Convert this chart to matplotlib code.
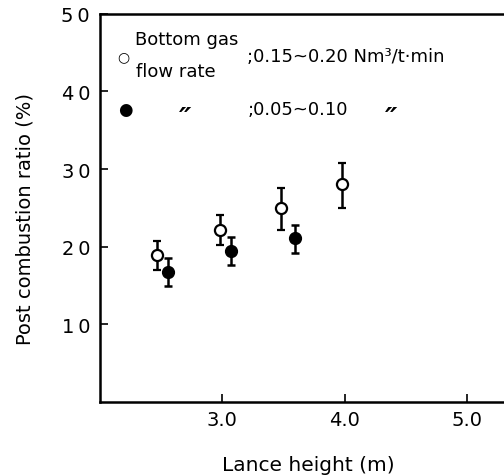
import numpy as np
import matplotlib.pyplot as plt

# open circles: bottom gas 0.15~0.20 Nm3/t.min
x_open = [2.47, 2.98, 3.48, 3.98]
y_open = [18.9, 22.2, 25.0, 28.1]
lo_open = [17.0, 20.2, 22.1, 25.0]
hi_open = [20.7, 24.1, 27.6, 30.8]

# filled circles: bottom gas 0.05~0.10
x_fill = [2.56, 3.07, 3.59]
y_fill = [16.8, 19.4, 21.1]
lo_fill = [15.0, 17.7, 19.2]
hi_fill = [18.6, 21.2, 22.8]

xticks = [3.0, 4.0, 5.0]
yticks = [10, 20, 30, 40, 50]

fig = plt.figure(figsize=(5.04, 4.77), dpi=100)
ax = fig.add_axes([0.198, 0.155, 0.802, 0.814])


def errs(y, lo, hi):
    y = np.array(y)
    return [y - np.array(lo), np.array(hi) - y]


ax.errorbar(x_open, y_open, yerr=errs(y_open, lo_open, hi_open), fmt="o",
            mfc="white", mec="black", mew=1.6, ms=8, ecolor="black",
            elinewidth=1.8, capsize=3.2, capthick=1.8, zorder=3)
ax.errorbar(x_fill, y_fill, yerr=errs(y_fill, lo_fill, hi_fill), fmt="o",
            mfc="black", mec="black", ms=8.5, ecolor="black",
            elinewidth=1.8, capsize=3.2, capthick=1.8, zorder=3)

ax.set_xlim(2.0, 5.3)
ax.set_ylim(0, 50)
ax.set_xticks(xticks)
ax.set_xticklabels([f"{t:.1f}" for t in xticks])
ax.set_yticks(yticks)
# spaced digits like the original print
ax.set_yticklabels(["\u2009".join(str(t)) for t in yticks])
ax.tick_params(direction="in", length=6, width=1.2, labelsize=14)
ax.tick_params(axis="x", pad=6)
ax.tick_params(axis="y", pad=7)
for s in ["left", "bottom", "top"]:
    ax.spines[s].set_linewidth(1.8)
ax.spines["right"].set_visible(False)

ax.set_xlabel("Lance height (m)", fontsize=14.5, va="center")
ax.xaxis.set_label_coords(0.516, -0.16)
ax.set_ylabel("Post combustion ratio (%)", fontsize=14, va="center")
ax.yaxis.set_label_coords(-0.186, 0.475)

# hand-drawn style legend
kw = dict(transform=ax.transAxes, va="center")
ax.text(0.057, 0.892, "\u25cb", fontsize=10, ha="center", **kw)
ax.text(0.087, 0.936, "Bottom gas", fontsize=13, **kw)
ax.text(0.09, 0.853, "flow rate", fontsize=13, **kw)
ax.text(0.365, 0.892, ";0.15~0.20 Nm\u00b3/t\u00b7min", fontsize=13, **kw)
ax.text(0.062, 0.755, "\u25cf", fontsize=12, ha="center", **kw)
ax.text(0.21, 0.73, "\u2033", fontsize=20, ha="center", style="italic",
        weight="bold", **kw)
ax.text(0.365, 0.755, ";0.05~0.10", fontsize=13, **kw)
ax.text(0.72, 0.73, "\u2033", fontsize=20, ha="center", style="italic",
        weight="bold", **kw)

fig.savefig("out.png", dpi=100)
